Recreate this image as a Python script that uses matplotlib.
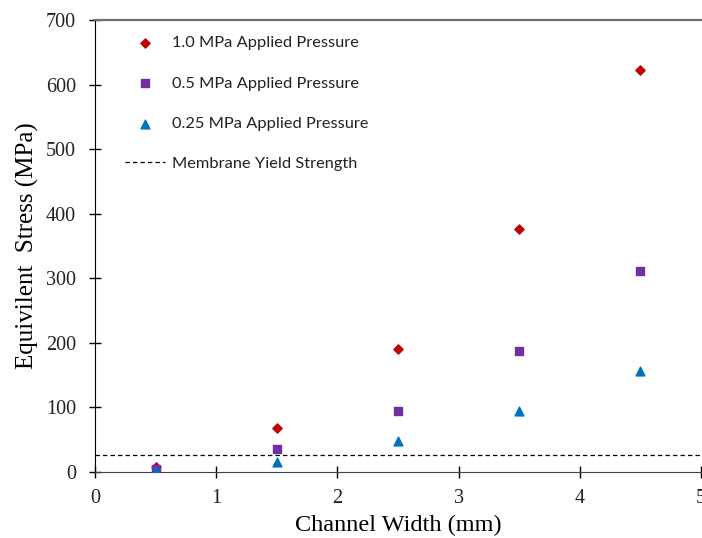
import numpy as np
import matplotlib.pyplot as plt

# data
width_mm = [0.5, 1.5, 2.5, 3.5, 4.5]
stress_1_0 = [8, 68, 190, 376, 622]
stress_0_5 = [4, 35, 95, 187, 312]
stress_0_25 = [2, 16, 48, 95, 157]
yield_strength = 26

x_ticks = [0, 1, 2, 3, 4, 5]
y_ticks = [0, 100, 200, 300, 400, 500, 600, 700]

serif = ["Liberation Serif", "DejaVu Serif"]
sans = ["Lato", "DejaVu Sans"]

fig = plt.figure(figsize=(7.02, 5.38), dpi=100)
ax = fig.add_axes([0.1353, 0.1227, 0.8633, 0.8401])

ax.scatter(width_mm, stress_1_0, marker="D", s=22, color="#C00000",
           label="1.0 MPa Applied Pressure", zorder=3)
ax.scatter(width_mm, stress_0_5, marker="s", s=40, color="#7030A0",
           label="0.5 MPa Applied Pressure", zorder=3)
ax.scatter(width_mm, stress_0_25, marker="^", s=40, color="#0070C0",
           label="0.25 MPa Applied Pressure", zorder=3)
ax.axhline(yield_strength, color="black", lw=0.9, ls=(0, (3.5, 2.5)),
           label="Membrane Yield Strength", zorder=2)

ax.set_xlim(0, 5)
ax.set_ylim(0, 700)
ax.set_xticks(x_ticks)
ax.set_yticks(y_ticks)
ax.tick_params(direction="inout", length=8, width=1, colors="black",
               labelsize=14.5)
ax.tick_params(axis="x", pad=8)
ax.tick_params(axis="y", pad=9.5)
for lab in ax.get_xticklabels() + ax.get_yticklabels():
    lab.set_family(serif)
    lab.set_color("#222222")

ax.spines["right"].set_visible(False)
ax.spines["top"].set_color("#6e6e6e")
ax.spines["top"].set_linewidth(1.6)
ax.spines["left"].set_color("black")
ax.spines["bottom"].set_color("#404040")

ax.set_xlabel("Channel Width (mm)", family=serif, fontsize=17.5, labelpad=5)
ax.set_ylabel("Equivilent  Stress (MPa)", family=serif, fontsize=18, labelpad=5)

leg = ax.legend(loc="upper left", bbox_to_anchor=(0.03, 0.99), frameon=False,
                prop={"family": sans, "size": 11.8}, labelspacing=1.57,
                handlelength=2.45, handletextpad=0.45, borderaxespad=0.3)
for t in leg.get_texts():
    t.set_color("#222222")

fig.savefig("out.png", dpi=100)
